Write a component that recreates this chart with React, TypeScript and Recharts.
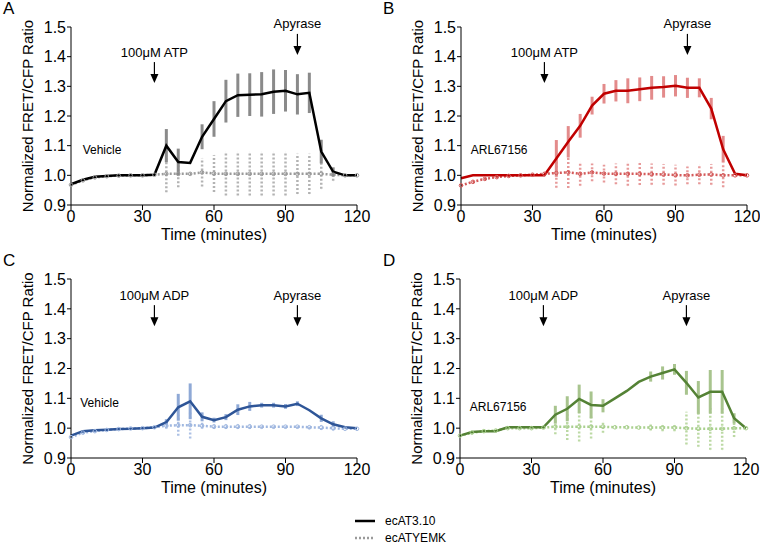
import { ErrorBar, Line, LineChart, ReferenceDot, XAxis, YAxis } from 'recharts'

const FONT = '"Liberation Sans", Arial, sans-serif'

const TIME = [0, 5, 10, 15, 20, 25, 30, 35, 40, 45, 50, 55, 60, 65, 70, 75, 80, 85, 90, 95, 100, 105, 110, 115, 120]
const X_TICKS = [0, 30, 60, 90, 120]
const Y_TICKS = [0.9, 1.0, 1.1, 1.2, 1.3, 1.4, 1.5]

// A: ATP, vehicle
const A_AT = [0.97, 0.985, 0.995, 0.998, 1.0, 1.0, 1.0, 1.002, 1.1, 1.045, 1.042, 1.13, 1.19, 1.25, 1.27, 1.272, 1.273, 1.282, 1.285, 1.273, 1.278, 1.08, 1.012, 1.0, 1.0]
const A_AT_ERR = [0, 0, 0, 0, 0, 0, 0, 0, 0.056, 0.045, 0, 0.042, 0.06, 0.072, 0.073, 0.072, 0.075, 0.075, 0.07, 0.068, 0.068, 0.04, 0.015, 0, 0]
const A_YEMK = [0.968, 0.983, 0.993, 0.997, 0.999, 1.0, 1.0, 1.002, 1.005, 1.005, 1.005, 1.01, 1.006, 1.005, 1.005, 1.005, 1.005, 1.005, 1.005, 1.005, 1.005, 1.005, 1.002, 1.0, 1.0]
const A_YEMK_ERR = [0, 0, 0, 0, 0, 0, 0, 0, 0.062, 0.045, 0, 0.048, 0.062, 0.073, 0.073, 0.073, 0.073, 0.073, 0.073, 0.068, 0.068, 0.05, 0.02, 0, 0]

// B: ATP, ARL67156
const B_AT = [0.99, 1.0, 1.0, 1.0, 1.0, 1.0, 1.0, 1.0, 1.057, 1.113, 1.167, 1.235, 1.275, 1.285, 1.285, 1.29, 1.295, 1.298, 1.302, 1.295, 1.295, 1.225, 1.088, 1.005, 1.0]
const B_AT_ERR = [0, 0, 0, 0, 0, 0, 0, 0, 0.062, 0.053, 0.04, 0.03, 0.033, 0.036, 0.042, 0.04, 0.04, 0.036, 0.036, 0.034, 0.032, 0.036, 0.045, 0, 0]
const B_YEMK = [0.966, 0.978, 0.988, 0.994, 0.998, 1.0, 1.002, 1.005, 1.008, 1.01, 1.005, 1.01, 1.006, 1.005, 1.005, 1.005, 1.004, 1.003, 1.001, 1.0, 1.002, 1.003, 1.0, 1.0, 1.0]
const B_YEMK_ERR = [0, 0, 0, 0, 0, 0, 0, 0, 0.05, 0.053, 0.04, 0.03, 0.03, 0.035, 0.04, 0.038, 0.036, 0.035, 0.035, 0.03, 0.032, 0.035, 0.04, 0, 0]

// C: ADP, vehicle
const C_AT = [0.975, 0.99, 0.993, 0.995, 0.997, 0.998, 1.0, 1.002, 1.02, 1.07, 1.09, 1.038, 1.027, 1.037, 1.062, 1.073, 1.077, 1.077, 1.073, 1.082, 1.06, 1.033, 1.013, 1.003, 1.0]
const C_AT_ERR = [0, 0, 0, 0, 0, 0, 0, 0, 0.01, 0.045, 0.06, 0.015, 0.008, 0.01, 0.018, 0.015, 0.008, 0.008, 0.008, 0.008, 0, 0.012, 0.01, 0, 0]
const C_YEMK = [0.97, 0.985, 0.99, 0.994, 0.997, 0.999, 1.0, 1.003, 1.008, 1.01, 1.01, 1.008, 1.005, 1.005, 1.005, 1.005, 1.005, 1.005, 1.005, 1.005, 1.003, 1.002, 1.0, 0.998, 0.998]
const C_YEMK_ERR = [0, 0, 0, 0, 0, 0, 0, 0, 0.01, 0.035, 0.045, 0.01, 0.008, 0.008, 0.008, 0.008, 0.006, 0.006, 0.006, 0.006, 0.006, 0.008, 0.008, 0, 0]

// D: ADP, ARL67156
const D_AT = [0.975, 0.987, 0.99, 0.99, 1.003, 1.003, 1.003, 1.003, 1.045, 1.065, 1.098, 1.078, 1.075, 1.1, 1.125, 1.155, 1.173, 1.185, 1.197, 1.152, 1.103, 1.122, 1.122, 1.033, 1.0]
const D_AT_ERR = [0, 0, 0, 0, 0, 0, 0, 0, 0.03, 0.042, 0.048, 0.045, 0.022, 0, 0, 0, 0.017, 0.022, 0.018, 0.04, 0.055, 0.073, 0.073, 0.017, 0]
const D_YEMK = [0.975, 0.985, 0.99, 0.992, 1.0, 1.0, 1.0, 1.002, 1.005, 1.005, 1.005, 1.005, 1.005, 1.003, 1.003, 1.002, 1.002, 1.002, 1.002, 1.0, 0.998, 0.998, 0.998, 1.0, 1.0]
const D_YEMK_ERR = [0, 0, 0, 0, 0, 0, 0, 0, 0.025, 0.045, 0.05, 0.04, 0.02, 0, 0, 0, 0.01, 0.012, 0.012, 0.055, 0.06, 0.07, 0.07, 0.03, 0]

interface Colors {
  line: string
  err: string
  dots: string
  dotsErr: string
}

interface PanelProps {
  letter: string
  left: number
  top: number
  height: number
  yAxisWidth: number
  right: number
  at: number[]
  atErr: number[]
  yemk: number[]
  yemkErr: number[]
  colors: Colors
  agonist: string
  agonistTip: number
  apyraseTip: number
  treatment: string
  treatmentX: number
  treatmentY: number
}

function Arrow({ cx, cy, text }: { cx: number; cy: number; text: string }) {
  return (
    <g>
      <text x={cx} y={cy - 31} textAnchor="middle" dominantBaseline="central" fontSize={13} fontFamily={FONT} fill="#000">
        {text}
      </text>
      <line x1={cx} y1={cy - 21} x2={cx} y2={cy - 8} stroke="#000" strokeWidth={1.2} />
      <polygon points={`${cx - 4},${cy - 9} ${cx + 4},${cy - 9} ${cx},${cy}`} fill="#000" />
    </g>
  )
}

function Panel(p: PanelProps) {
  const rows = TIME.map((t, i) => ({
    t,
    at: p.at[i],
    atErr: p.atErr[i],
    yemk: p.yemk[i],
    yemkErr: p.yemkErr[i],
  }))
  const plotTop = 27
  const plotBottom = p.height - 45
  const plotLeft = p.yAxisWidth
  const plotRight = 380 - p.right
  return (
    <div style={{ position: 'absolute', left: p.left, top: p.top }}>
      <div style={{ position: 'absolute', left: 3, top: -1, fontSize: 17, fontFamily: FONT }}>{p.letter}</div>
      <LineChart width={380} height={p.height} data={rows} margin={{ top: plotTop, right: p.right, left: 0, bottom: 0 }}>
        <XAxis
          dataKey="t"
          type="number"
          domain={[0, 120]}
          ticks={X_TICKS}
          height={45}
          stroke="#000"
          tickSize={5}
          tickMargin={1}
          tick={{ fontSize: 16, fill: '#000', fontFamily: FONT }}
          label={() => (
            <text
              x={(plotLeft + plotRight) / 2}
              y={plotBottom + 29}
              textAnchor="middle"
              dominantBaseline="central"
              fontSize={16}
              fontFamily={FONT}
              fill="#000"
            >
              Time (minutes)
            </text>
          )}
        />
        <YAxis
          type="number"
          domain={[0.9, 1.5]}
          ticks={Y_TICKS}
          width={p.yAxisWidth}
          stroke="#000"
          tickSize={4}
          tickMargin={1}
          tickFormatter={(v: number) => v.toFixed(1)}
          tick={{ fontSize: 16, fill: '#000', fontFamily: FONT }}
          label={() => {
            const lx = p.yAxisWidth - 44
            const ly = (plotTop + plotBottom) / 2
            return (
              <text
                x={lx}
                y={ly}
                transform={`rotate(-90 ${lx} ${ly})`}
                textAnchor="middle"
                dominantBaseline="central"
                fontSize={15}
                fontFamily={FONT}
                fill="#000"
              >
                Normalized FRET/CFP Ratio
              </text>
            )
          }}
        />
        <Line
          dataKey="yemk"
          stroke={p.colors.dots}
          strokeWidth={2.5}
          strokeDasharray="2 2"
          dot={{ r: 1.8, fill: 'none', stroke: p.colors.dots, strokeWidth: 1, strokeDasharray: '' }}
          isAnimationActive={false}
        >
          <ErrorBar
            dataKey="yemkErr"
            direction="y"
            width={0}
            stroke={p.colors.dotsErr}
            strokeWidth={2.5}
            strokeDasharray="2 2"
            isAnimationActive={false}
          />
        </Line>
        <Line dataKey="at" stroke={p.colors.line} strokeWidth={2.5} dot={false} isAnimationActive={false}>
          <ErrorBar dataKey="atErr" direction="y" width={0} stroke={p.colors.err} strokeWidth={3} isAnimationActive={false} />
        </Line>
        <ReferenceDot
          x={35}
          y={p.agonistTip}
          r={0}
          ifOverflow="visible"
          shape={(s: any) => <Arrow cx={s.cx} cy={s.cy} text={p.agonist} />}
        />
        <ReferenceDot
          x={95}
          y={p.apyraseTip}
          r={0}
          ifOverflow="visible"
          shape={(s: any) => <Arrow cx={s.cx} cy={s.cy} text="Apyrase" />}
        />
        <ReferenceDot
          x={p.treatmentX}
          y={p.treatmentY}
          r={0}
          ifOverflow="visible"
          shape={(s: any) => (
            <text x={s.cx} y={s.cy} textAnchor="middle" dominantBaseline="central" fontSize={12} fontFamily={FONT} fill="#000">
              {p.treatment}
            </text>
          )}
        />
      </LineChart>
    </div>
  )
}

const BLACK: Colors = { line: '#000000', err: '#8a8a8a', dots: '#9a9a9a', dotsErr: '#b3b3b3' }
const RED: Colors = { line: '#c00000', err: '#e38b8b', dots: '#d45a5a', dotsErr: '#e79a9a' }
const BLUE: Colors = { line: '#2e5597', err: '#8fa9d6', dots: '#9fb7e0', dotsErr: '#adc1e5' }
const GREEN: Colors = { line: '#548235', err: '#a8c48e', dots: '#a9d08e', dotsErr: '#bcd9a4' }

export default function App() {
  return (
    <div style={{ position: 'absolute', left: 0, top: 0, width: 760, height: 545, background: '#fff', fontFamily: FONT }}>
      <Panel
        letter="A" left={0} top={0} height={250} yAxisWidth={71} right={23}
        at={A_AT} atErr={A_AT_ERR} yemk={A_YEMK} yemkErr={A_YEMK_ERR} colors={BLACK}
        agonist="100μM ATP" agonistTip={1.311} apyraseTip={1.406}
        treatment="Vehicle" treatmentX={13} treatmentY={1.085}
      />
      <Panel
        letter="B" left={380} top={0} height={250} yAxisWidth={81} right={13}
        at={B_AT} atErr={B_AT_ERR} yemk={B_YEMK} yemkErr={B_YEMK_ERR} colors={RED}
        agonist="100μM ATP" agonistTip={1.311} apyraseTip={1.406}
        treatment="ARL67156" treatmentX={16} treatmentY={1.085}
      />
      <Panel
        letter="C" left={0} top={252} height={251} yAxisWidth={71} right={23}
        at={C_AT} atErr={C_AT_ERR} yemk={C_YEMK} yemkErr={C_YEMK_ERR} colors={BLUE}
        agonist="100μM ADP" agonistTip={1.342} apyraseTip={1.342}
        treatment="Vehicle" treatmentX={12} treatmentY={1.084}
      />
      <Panel
        letter="D" left={380} top={252} height={251} yAxisWidth={80} right={14}
        at={D_AT} atErr={D_AT_ERR} yemk={D_YEMK} yemkErr={D_YEMK_ERR} colors={GREEN}
        agonist="100μM ADP" agonistTip={1.342} apyraseTip={1.342}
        treatment="ARL67156" treatmentX={16} treatmentY={1.07}
      />
      <svg width={760} height={42} style={{ position: 'absolute', left: 0, top: 503 }}>
        <line x1={355} y1={18} x2={375} y2={18} stroke="#000" strokeWidth={2.5} />
        <text x={385} y={18} dominantBaseline="central" fontSize={12} fontFamily={FONT} fill="#000">ecAT3.10</text>
        <line x1={355} y1={35} x2={375} y2={35} stroke="#9a9a9a" strokeWidth={2.5} strokeDasharray="2 2" />
        <text x={385} y={35} dominantBaseline="central" fontSize={12} fontFamily={FONT} fill="#000">ecATYEMK</text>
      </svg>
    </div>
  )
}
